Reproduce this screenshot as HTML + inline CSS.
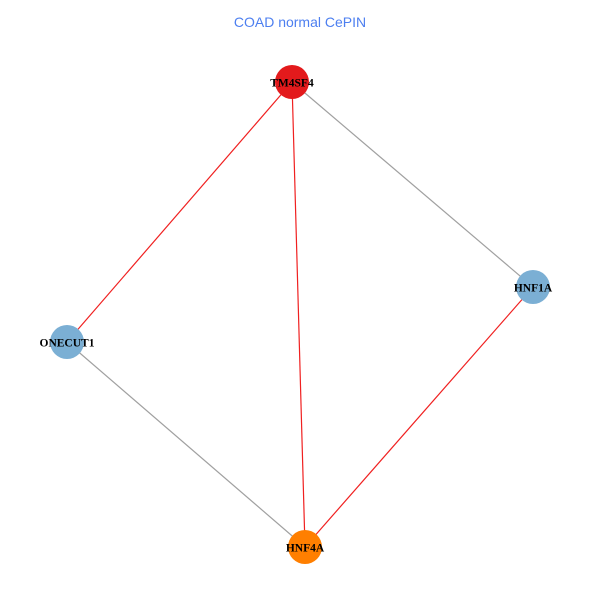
<!DOCTYPE html>
<html><head><meta charset="utf-8"><style>html,body{margin:0;padding:0;background:#fff}</style></head>
<body>
<svg width="600" height="600" xmlns="http://www.w3.org/2000/svg">
<rect width="600" height="600" fill="#fff"/>
<text x="300" y="27" text-anchor="middle" font-family="Liberation Sans, sans-serif" font-size="14" fill="#4d7ff0">COAD normal CePIN</text>
<g stroke-width="1.2">
<line x1="292" y1="82" x2="533" y2="287" stroke="#a0a0a0"/>
<line x1="67" y1="342" x2="305" y2="547" stroke="#a0a0a0"/>
<line x1="292" y1="82" x2="67" y2="342" stroke="#f02020"/>
<line x1="292" y1="82" x2="305" y2="547" stroke="#f02020"/>
<line x1="533" y1="287" x2="305" y2="547" stroke="#f02020"/>
</g>
<circle cx="292" cy="82" r="17" fill="#e31a1c"/>
<circle cx="533" cy="287" r="17" fill="#7bafd4"/>
<circle cx="67" cy="342" r="17" fill="#7bafd4"/>
<circle cx="305" cy="547" r="17" fill="#ff7f00"/>
<g font-family="Liberation Serif, serif" font-size="11.5" font-weight="bold" text-anchor="middle" fill="#000">
<text x="292" y="86.5">TM4SF4</text>
<text x="533" y="291.5">HNF1A</text>
<text x="67" y="346.5">ONECUT1</text>
<text x="305" y="551.5">HNF4A</text>
</g>
</svg>
</body></html>
